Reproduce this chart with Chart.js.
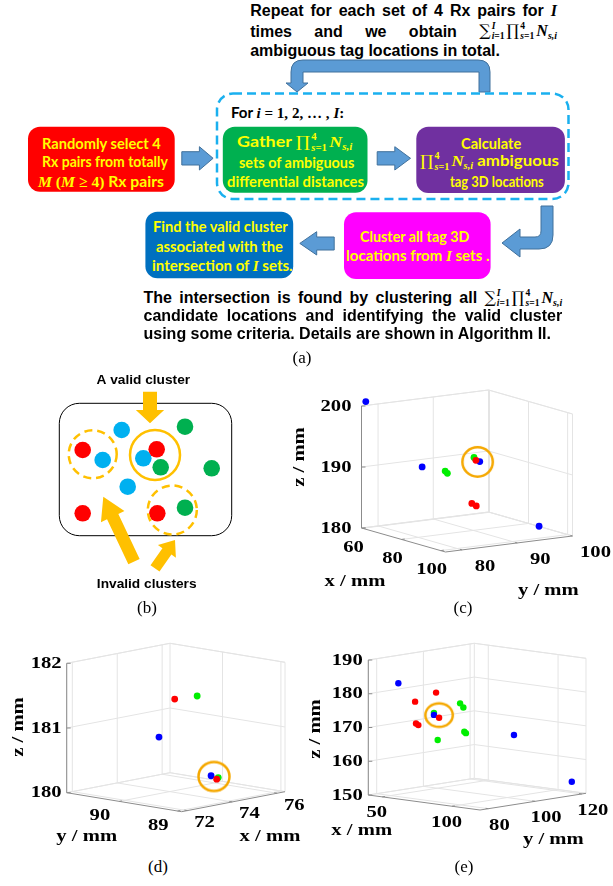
<!DOCTYPE html>
<html><head><meta charset="utf-8">
<script src="https://cdn.jsdelivr.net/npm/chart.js@4.4.1/dist/chart.umd.min.js"></script>
<style>
html,body{margin:0;padding:0;background:#fff;}
body{width:613px;height:886px;position:relative;overflow:hidden;font-family:"Liberation Sans",Arial,sans-serif;}
.abs{position:absolute;}
canvas{position:absolute;}
.para{position:absolute;font:bold 16px "Liberation Sans",Arial,sans-serif;color:#000;line-height:20px;height:20px;white-space:nowrap;}
.jl{display:flex;justify-content:space-between;align-items:baseline;}
.bx{position:absolute;white-space:nowrap;font:bold 15.5px Lato,"Open Sans",sans-serif;color:#ff0;line-height:19px;transform-origin:0 50%;}
.m{font-family:"Liberation Serif","DejaVu Serif",serif;font-style:italic;font-weight:bold;}
.mu{font-family:"Liberation Serif","DejaVu Serif",serif;font-weight:bold;font-style:normal;}
.op{font-family:"DejaVu Serif","Liberation Serif",serif;font-style:normal;font-weight:normal;font-size:1.0em;}
.lim{display:inline-flex;flex-direction:column;vertical-align:0.75em;font-size:0.6em;line-height:1;margin:0 2px 0 1px;text-align:left;}
.lim>span{display:block;}
.sb{font-size:0.62em;vertical-align:-0.3em;}
.cap{position:absolute;font:17px "Liberation Serif","Times New Roman",serif;transform:translate(-50%,-50%);white-space:nowrap;}
</style></head><body>

<svg class="abs" style="left:0;top:0" width="613" height="360">
 <path d="M490,92 V72 Q490,60 478,60 H303 Q291,60 291,72 V83 H286 L297,92 L308,83 H303 V72 H479 V92 Z" fill="#5b9bd5" stroke="#41719c" stroke-width="1"/>
 <rect x="217" y="93.5" width="351.5" height="105.5" rx="16" fill="none" stroke="#1ab0ef" stroke-width="2.5" stroke-dasharray="9 5"/>
 <rect x="28" y="126.7" width="146.7" height="65" rx="12" fill="#ff0000"/>
 <rect x="222.8" y="126.7" width="144.7" height="66" rx="12" fill="#00b050"/>
 <rect x="416.3" y="126.7" width="148.6" height="66.3" rx="12" fill="#7030a0"/>
 <rect x="145.4" y="211.7" width="147.8" height="66.6" rx="12" fill="#0070c0"/>
 <rect x="344" y="212.3" width="146.6" height="66.7" rx="12" fill="#ff00ff"/>
 <path d="M181.8,151.7 H199.4 V146.7 L213.1,158.3 L199.4,170 V165 H181.8 Z" fill="#5b9bd5" stroke="#41719c" stroke-width="1"/>
 <path d="M377.2,151.7 H394.8 V146.7 L410.5,158.3 L394.8,170 V165 H377.2 Z" fill="#5b9bd5" stroke="#41719c" stroke-width="1"/>
 <path d="M334.2,237 H316.7 V231.7 L299.8,243.4 L316.7,255 V250 H334.2 Z" fill="#5b9bd5" stroke="#41719c" stroke-width="1"/>
 <path d="M541,206 H553 V235 Q553,249 539,249 H520 V257 L502,243 L520,229 V237 H535 Q541,237 541,231 Z" fill="#5b9bd5" stroke="#41719c" stroke-width="1"/>
</svg>

<div id="boxtext"></div>

<canvas id="cb" width="235" height="240" style="left:40px;top:360px"></canvas>
<canvas id="cc" width="323" height="245" style="left:290px;top:365px"></canvas>
<canvas id="cd" width="310" height="225" style="left:0px;top:630px"></canvas>
<canvas id="ce" width="313" height="225" style="left:300px;top:630px"></canvas>

<div class="cap" style="left:302px;top:358px">(a)</div>
<div class="cap" style="left:147px;top:608px">(b)</div>
<div class="cap" style="left:463px;top:608px">(c)</div>
<div class="cap" style="left:158px;top:867px">(d)</div>
<div class="cap" style="left:464px;top:867px">(e)</div>

<script>
// ================= DATA =================
// (b) schematic: dot centres in panel units
const bRed   = [[42.7,90],[116.7,89.3],[42.7,153.3],[117.3,153.3]];
const bCyan  = [[81.7,70],[62.7,100],[103.3,98.3],[87.7,126.7]];
const bGreen = [[145,66.7],[120.7,107.3],[171.7,108.3],[145,147.7]];
const bValid   = [[115,95,25]];
const bInvalid = [[52.7,94.3,24],[132.3,150,24.5]];

// (c)  [x, y, z] in mm
const cTicksX = [60,80,100], cTicksY = [80,90,100], cTicksZ = [180,190,200];
const cRed   = [[85,88.7,192.1],[88,86.9,185.5],[88,87.7,185.0]];
const cBlue  = [[60,77.6,200.7],[75,82.5,190.8],[85,89.4,191.8],[95,96.6,181.3]];
const cGreen = [[80,84.9,190.3],[80,85.3,189.9],[85,88.35,192.6]];
const cHit   = [[85,89.0,191.8]];

// (d)
const dTicksX = [72,74,76], dTicksY = [89,90], dTicksZ = [180,181,182];
const dRed   = [[73.7,89.8,181.48],[74.01,89.2,180.31]];
const dBlue  = [[73.0,89.8,180.94],[73.76,89.2,180.38]];
const dGreen = [[74.7,89.8,181.46],[74.08,89.2,180.33]];
const dHit   = [[73.89,89.2,180.36]];

// (e)
const eTicksX = [50,100], eTicksY = [80,100,120], eTicksZ = [150,160,170,180,190];
const eRed   = [[75,84.5,181.4],[70,78.5,179.1],[80,82.8,174.4],[70,78.9,172.6],[70,79.9,172.0]];
const eBlue  = [[55,80.3,183.5],[80,80.6,175.5],[95,105.9,167.6],[110,121.7,152.9]];
const eGreen = [[85,88.8,178.3],[85,90.2,176.9],[80,80.6,176.1],[85,90.6,169.7],[85,91.3,169.2],[80,82.2,167.9]];
const eHit   = [[80,82.8,175.2]];

// ================= FLOWCHART TEXT =================
const PRODN = '<span class="op">∏</span><span class="lim"><span class="mu">4</span><span><span class="m">s</span><span class="mu">=1</span></span></span><span class="m">N</span><span class="sb m">s,i</span>';
const SUMPRODN = '<span class="op">∑</span><span class="lim"><span class="m">I</span><span><span class="m">i</span><span class="mu">=1</span></span></span>' + PRODN;
const II = '<span class="m">I</span>';

const boxLines = [
 ['Randomly select 4',42.2,161,143.3],
 ['Rx pairs from totally',42.2,168.1,161.7],
 ['<span class="m">M</span> <span class="mu">(</span><span class="m">M</span><span class="mu"> ≥ 4)</span> Rx pairs',38.3,164.2,181],
 ['Gather '+PRODN,236.5,351.8,144.3],
 ['sets of ambiguous',238.5,353.8,162.7],
 ['differential distances',226.7,363.6,181],
 ['Calculate',460.5,520.7,143.3],
 [PRODN+' ambiguous',420.2,559,163.3],
 ['tag 3D locations',449.6,543.4,181.7],
 ['Find the valid cluster',152.5,287.3,226.7],
 ['associated with the',156.4,283.4,246],
 ['intersection of '+II+' sets.',151.7,292.4,265],
 ['Cluster all tag 3D',359.7,469.1,236.7],
 ['locations from '+II+' sets .',346,489.5,255],
 ['<span style="color:#000">For </span><span class="m" style="color:#000">i</span><span class="mu" style="color:#000"> = 1, 2, … , </span><span class="m" style="color:#000">I</span><span class="mu" style="color:#000">:</span>',230.7,344,112.3]
];
const host = document.getElementById('boxtext');
boxLines.forEach(([h,l,r,cy])=>{
  const d=document.createElement('div'); d.className='bx'; d.innerHTML=h;
  d.dataset.l=l; d.dataset.r=r; d.dataset.cy=cy; host.appendChild(d);
});
function jline(parts,l,r,top,justify){
  const d=document.createElement('div'); d.className='para'+(justify?' jl':'');
  d.style.left=l+'px'; d.style.top=top+'px'; if(justify) d.style.width=(r-l)+'px';
  d.innerHTML = justify ? parts.map(p=>'<span>'+p+'</span>').join('') : parts.join(' ');
  document.body.appendChild(d);
}
jline(['Repeat','for','each','set','of','4','Rx','pairs','for',II],250.2,557,1.4,true);
jline(['times','and','we','obtain',SUMPRODN],250.2,557,21.4,true);
jline(['ambiguous tag locations in total.'],250.2,0,41.4,false);
jline(['The','intersection','is','found','by','clustering','all',SUMPRODN],143.5,562.2,288,true);
jline(['candidate','locations','and','identifying','the','valid','cluster'],143.5,562.2,306.4,true);
jline(['using some criteria. Details are shown in Algorithm II.'],143.5,0,324,false);

function fitAll(){
  document.querySelectorAll('.bx').forEach(el=>{
    el.style.transform='none';
    const l=+el.dataset.l, r=+el.dataset.r, cy=+el.dataset.cy;
    const bb=el.getBoundingClientRect();
    el.style.left=l+'px'; el.style.top=(cy-bb.height/2)+'px';
    el.style.transform='scaleX('+((r-l)/bb.width)+')';
  });
}
fitAll();
if(document.fonts && document.fonts.ready) document.fonts.ready.then(fitAll);

// ================= 3D PROJECTION =================
const projC={O:[361.5,528],o:[59.5,77,180],ex:[1.9535,0.5581],ey:[5.5217,-0.6957],ez:-6.1,
  xr:[59.5,102.5],yr:[77,100],zr:[180,200],backX:59.5,backY:100,frontX:102.5,frontY:77,zAt:[59.5,77],
  tx:cTicksX,ty:cTicksY,tz:cTicksZ,
  lx:[-9,19],ly:[23,16.5],lz:[-10,0],
  titles:[['x / mm',355,581.7,0],['y / mm',548.3,590,0],['z / mm',299,457,-1]]};
const projD={O:[181.7,811.7],o:[71.75,88.93,180],ex:[22.457,-4.348],ey:[-58.376,-9.645],ez:-64.7,
  xr:[71.75,76.35],yr:[88.93,90.9],zr:[180,182],backX:76.35,backY:90.9,frontX:71.75,frontY:88.93,zAt:[71.75,90.9],
  tx:dTicksX,ty:dTicksY,tz:dTicksZ,
  lx:[17.2,12],ly:[-19.3,14.6],lz:[-5,0],
  titles:[['y / mm',86.7,836.7,0],['x / mm',270,836.7,0],['z / mm',18,727,-1]]};
const projE={O:[368.3,795],o:[40,76.4,150],ex:[1.39625,0.1875],ey:[2.3348,-0.3678],ez:-3.375,
  xr:[40,120],yr:[76.4,121.8],zr:[150,190],backX:40,backY:121.8,frontX:120,frontY:76.4,zAt:[40,76.4],
  tx:eTicksX,ty:eTicksY,tz:eTicksZ,
  lx:[-5.5,16],ly:[11,16.5],lz:[-5.6,0],
  titles:[['x / mm',361.7,830,0],['y / mm',553.3,839.3,0],['z / mm',315,729,-1]]};

function project(P,x,y,z){
  const dx=x-P.o[0], dy=y-P.o[1], dz=z-P.o[2];
  return {x:P.O[0]+dx*P.ex[0]+dy*P.ey[0], y:P.O[1]+dx*P.ex[1]+dy*P.ey[1]+dz*P.ez};
}
const FONT='bold 17.5px "Liberation Serif","Times New Roman",serif', FSX=1.18;

const box3d={id:'box3d',
  beforeDatasetsDraw(chart,args,opts){
    const P=opts.P; if(!P) return;
    const ctx=chart.ctx, sx=chart.scales.x, sy=chart.scales.y;
    const pt=(x,y,z)=>{const q=project(P,x,y,z);return [sx.getPixelForValue(q.x),sy.getPixelForValue(q.y)];};
    const pg=(X,Y)=>[sx.getPixelForValue(X),sy.getPixelForValue(Y)];
    const line=(a,b)=>{const p=pt(...a),q=pt(...b);ctx.beginPath();ctx.moveTo(p[0],p[1]);ctx.lineTo(q[0],q[1]);ctx.stroke();};
    const [x0,x1]=P.xr,[y0,y1]=P.yr,[z0,z1]=P.zr;
    ctx.save();
    ctx.lineWidth=1; ctx.strokeStyle='#e4e4e4';
    P.tx.forEach(t=>line([t,y0,z0],[t,y1,z0]));
    P.ty.forEach(t=>line([x0,t,z0],[x1,t,z0]));
    P.ty.forEach(t=>line([P.backX,t,z0],[P.backX,t,z1]));
    P.tz.forEach(t=>line([P.backX,y0,t],[P.backX,y1,t]));
    P.tx.forEach(t=>line([t,P.backY,z0],[t,P.backY,z1]));
    P.tz.forEach(t=>line([x0,P.backY,t],[x1,P.backY,t]));
    line([P.backX,y0,z1],[P.backX,y1,z1]); line([x0,P.backY,z1],[x1,P.backY,z1]);
    line([P.backX,P.backY,z0],[P.backX,P.backY,z1]);
    line([P.frontX,P.backY,z0],[P.frontX,P.backY,z1]);
    line([P.backX,P.frontY,z0],[P.backX,P.frontY,z1]);
    line([P.backX,y0,z0],[P.backX,y1,z0]); line([x0,P.backY,z0],[x1,P.backY,z0]);
    // axes
    ctx.strokeStyle='#8c8c8c';
    line([x0,P.frontY,z0],[x1,P.frontY,z0]);
    line([P.frontX,y0,z0],[P.frontX,y1,z0]);
    line([P.zAt[0],P.zAt[1],z0],[P.zAt[0],P.zAt[1],z1]);
    const ky=0.025*(P.backY-P.frontY), kx=0.025*(P.backX-P.frontX);
    P.tx.forEach(t=>line([t,P.frontY,z0],[t,P.frontY+ky,z0]));
    P.ty.forEach(t=>line([P.frontX,t,z0],[P.frontX+kx,t,z0]));
    P.tz.forEach(t=>{const p=pt(P.zAt[0],P.zAt[1],t);ctx.beginPath();ctx.moveTo(p[0],p[1]);ctx.lineTo(p[0]+4,p[1]);ctx.stroke();});
    // labels
    ctx.fillStyle='#000'; ctx.font=FONT; ctx.textBaseline='middle';
    const txt=(s,x,y,align,rot)=>{ctx.save();ctx.translate(x,y);if(rot)ctx.rotate(rot);ctx.scale(FSX,1);ctx.textAlign=align;ctx.fillText(s,0,0);ctx.restore();};
    P.tx.forEach(t=>{const p=pt(t,P.frontY,z0);txt(String(t),p[0]+P.lx[0],p[1]+P.lx[1],'center');});
    P.ty.forEach(t=>{const p=pt(P.frontX,t,z0);txt(String(t),p[0]+P.ly[0],p[1]+P.ly[1],'center');});
    P.tz.forEach(t=>{const p=pt(P.zAt[0],P.zAt[1],t);txt(String(t),p[0]+P.lz[0],p[1]+P.lz[1],'right');});
    P.titles.forEach(([s,X,Y,r])=>{const p=pg(X,Y);txt(s,p[0],p[1],'center',r?-Math.PI/2:0);});
    ctx.restore();
  }};

function ringImg(rx,ry,lw,color){
  const c=document.createElement('canvas');c.width=Math.ceil(2*rx+lw+2);c.height=Math.ceil(2*ry+lw+2);
  const g=c.getContext('2d');g.strokeStyle=color;g.lineWidth=lw;g.beginPath();
  g.ellipse(c.width/2,c.height/2,rx,ry,0,0,Math.PI*2);g.stroke();return c;
}
const ORANGE='#f5a800';
function make3D(id,P,red,blue,green,hit,left,top,r,ring){
  const cv=document.getElementById(id);
  const map=a=>a.map(p=>project(P,p[0],p[1],p[2]));
  const ds=(data,col)=>({data:map(data),pointRadius:r,pointHoverRadius:r,backgroundColor:col,borderWidth:0,clip:false});
  new Chart(cv,{type:'scatter',
    data:{datasets:[ds(red,'#ff0000'),ds(blue,'#0000ff'),ds(green,'#00ee00'),
      {data:map(hit),pointStyle:ring,pointRadius:15,borderWidth:0,clip:false}]},
    options:{responsive:false,animation:false,events:[],layout:{padding:0,autoPadding:false},
      plugins:{legend:{display:false},tooltip:{enabled:false},box3d:{P}},
      scales:{x:{type:'linear',display:false,min:left,max:left+cv.width},
              y:{type:'linear',display:false,min:top,max:top+cv.height,reverse:true}}},
    plugins:[box3d]});
}
make3D('cc',projC,cRed,cBlue,cGreen,cHit,290,365,3.4,ringImg(15.2,14.7,2.5,ORANGE));
make3D('cd',projD,dRed,dBlue,dGreen,dHit,0,630,3.4,ringImg(15.5,14.5,2.5,ORANGE));
make3D('ce',projE,eRed,eBlue,eGreen,eHit,300,630,3.2,ringImg(13.7,11.8,2.5,ORANGE));

// ================= (b) schematic =================
const YEL='#ffc000';
const bArrows=[[[110,31.7],[110,63.3],14,28.3,13.3],[[94,201.7],[63.3,136.7],12.5,26,22],[[115,208.3],[135,180],11,22,14]];
function blockArrow(ctx,t,h,w,hw,hl){
  const dx=h[0]-t[0],dy=h[1]-t[1],L=Math.hypot(dx,dy),ux=dx/L,uy=dy/L,nx=-uy,ny=ux;
  const bx=h[0]-ux*hl,by=h[1]-uy*hl;
  ctx.beginPath();ctx.moveTo(t[0]+nx*w/2,t[1]+ny*w/2);ctx.lineTo(bx+nx*w/2,by+ny*w/2);
  ctx.lineTo(bx+nx*hw/2,by+ny*hw/2);ctx.lineTo(h[0],h[1]);ctx.lineTo(bx-nx*hw/2,by-ny*hw/2);
  ctx.lineTo(bx-nx*w/2,by-ny*w/2);ctx.lineTo(t[0]-nx*w/2,t[1]-ny*w/2);ctx.closePath();ctx.fill();
}
const schem={id:'schem',
  beforeDatasetsDraw(chart){
    const ctx=chart.ctx,sx=chart.scales.x,sy=chart.scales.y;
    const a=[sx.getPixelForValue(19.3),sy.getPixelForValue(43.3)],b=[sx.getPixelForValue(191.7),sy.getPixelForValue(175.7)];
    ctx.save();ctx.strokeStyle='#000';ctx.lineWidth=1;ctx.beginPath();ctx.roundRect(a[0],a[1],b[0]-a[0],b[1]-a[1],20);ctx.stroke();ctx.restore();
  },
  afterDatasetsDraw(chart){
    const ctx=chart.ctx,sx=chart.scales.x,sy=chart.scales.y;
    const p=(v)=>[sx.getPixelForValue(v[0]),sy.getPixelForValue(v[1])];
    ctx.save();ctx.strokeStyle=YEL;ctx.lineWidth=2.5;
    bValid.forEach(c=>{const q=p(c);ctx.setLineDash([]);ctx.beginPath();ctx.arc(q[0],q[1],c[2],0,Math.PI*2);ctx.stroke();});
    bInvalid.forEach(c=>{const q=p(c);ctx.setLineDash([8,5]);ctx.beginPath();ctx.arc(q[0],q[1],c[2],0,Math.PI*2);ctx.stroke();});
    ctx.setLineDash([]);ctx.fillStyle=YEL;
    bArrows.forEach(([t,h,w,hw,hl])=>blockArrow(ctx,p(t),p(h),w,hw,hl));
    ctx.fillStyle='#000';ctx.font='bold 13.7px "Liberation Sans",Arial,sans-serif';ctx.textAlign='center';ctx.textBaseline='middle';
    let q=p([103.3,20]);ctx.fillText('A valid cluster',q[0],q[1]);
    q=p([106.7,224]);ctx.fillText('Invalid clusters',q[0],q[1]);
    ctx.restore();
  }};
(function(){
  const toPts=a=>a.map(v=>({x:v[0],y:v[1]}));
  const ds=(d,c)=>({data:toPts(d),pointRadius:8.3,pointHoverRadius:8.3,backgroundColor:c,borderWidth:0,clip:false});
  new Chart(document.getElementById('cb'),{type:'scatter',
    data:{datasets:[ds(bRed,'#ff0000'),ds(bCyan,'#00b0f0'),ds(bGreen,'#00b050')]},
    options:{responsive:false,animation:false,events:[],layout:{padding:0,autoPadding:false},
      plugins:{legend:{display:false},tooltip:{enabled:false}},
      scales:{x:{type:'linear',display:false,min:0,max:235},y:{type:'linear',display:false,min:0,max:240,reverse:true}}},
    plugins:[schem]});
})();
</script>
</body></html>
